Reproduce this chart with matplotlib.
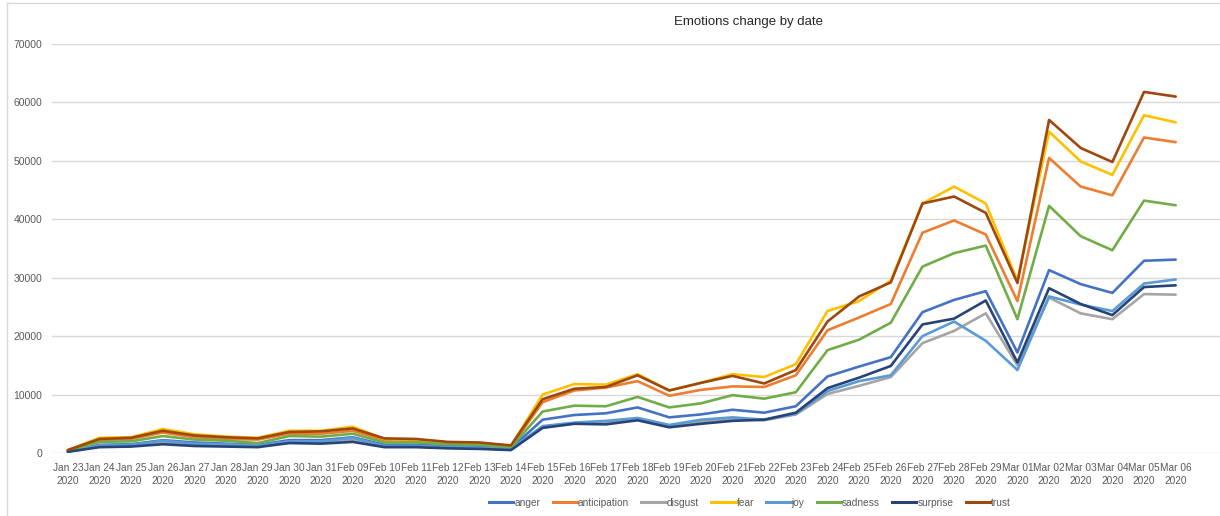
import matplotlib
matplotlib.use("Agg")
import matplotlib.pyplot as plt
from matplotlib.lines import Line2D

plt.rcParams["font.family"] = ["Liberation Sans", "DejaVu Sans"]

dates = ["Jan 23", "Jan 24", "Jan 25", "Jan 26", "Jan 27", "Jan 28", "Jan 29",
         "Jan 30", "Jan 31", "Feb 09", "Feb 10", "Feb 11", "Feb 12", "Feb 13",
         "Feb 14", "Feb 15", "Feb 16", "Feb 17", "Feb 18", "Feb 19", "Feb 20",
         "Feb 21", "Feb 22", "Feb 23", "Feb 24", "Feb 25", "Feb 26", "Feb 27",
         "Feb 28", "Feb 29", "Mar 01", "Mar 02", "Mar 03", "Mar 04", "Mar 05",
         "Mar 06"]
labels = [d + "\n2020" for d in dates]

anger = [300, 1400, 1500, 2200, 1800, 1600, 1400, 2200, 2200, 2700, 1400, 1400,
         1200, 1100, 800, 5700, 6500, 6800, 7800, 6100, 6600, 7400, 6900, 8000,
         13100, 14800, 16400, 24100, 26200, 27700, 17200, 31300, 28900, 27400,
         32900, 33100]
anticipation = [450, 2200, 2400, 3500, 2700, 2400, 2300, 3300, 3300, 3800, 2200,
                2100, 1700, 1600, 1100, 8700, 10700, 11200, 12300, 9800, 10800,
                11400, 11300, 13300, 21000, 23200, 25500, 37700, 39800, 37400,
                26000, 50500, 45600, 44100, 54000, 53200]
disgust = [250, 1200, 1300, 1800, 1400, 1300, 1200, 1900, 1800, 2300, 1100, 1100,
           900, 800, 600, 4500, 5100, 5200, 5800, 4600, 5400, 5800, 5600, 6600,
           10100, 11500, 13000, 18800, 20900, 23900, 15000, 26600, 23900, 22900,
           27200, 27100]
fear = [500, 2600, 2700, 4100, 3200, 2800, 2600, 3800, 3800, 4500, 2400, 2300,
        1800, 1700, 1200, 10000, 11800, 11700, 13500, 10700, 12000, 13500, 13000,
        15200, 24300, 26000, 29500, 42700, 45600, 42700, 29500, 55000, 49900,
        47600, 57800, 56600]
joy = [250, 1300, 1400, 2100, 1600, 1500, 1300, 2000, 2000, 2600, 1200, 1200,
       1000, 900, 700, 4600, 5200, 5500, 6000, 4800, 5700, 6100, 5700, 6700,
       10600, 12300, 13300, 20000, 22500, 19200, 14200, 26800, 25400, 24300,
       29000, 29700]
sadness = [400, 1900, 2000, 2900, 2300, 2100, 1700, 2900, 2800, 3300, 1800, 1800,
           1500, 1400, 1000, 7100, 8100, 8000, 9600, 7800, 8500, 9900, 9300, 10400,
           17600, 19400, 22300, 31900, 34200, 35500, 22900, 42300, 37100, 34700,
           43200, 42400]
surprise = [200, 1000, 1100, 1500, 1200, 1100, 1000, 1700, 1600, 1900, 1000, 1000,
            800, 700, 500, 4300, 5000, 4900, 5600, 4400, 5000, 5500, 5700, 6900,
            11100, 12900, 14900, 22000, 23000, 26100, 15500, 28200, 25500, 23600,
            28400, 28700]
trust = [500, 2400, 2600, 3800, 3000, 2700, 2500, 3600, 3700, 4200, 2500, 2400,
         1900, 1800, 1300, 9200, 11000, 11300, 13300, 10700, 12000, 13200, 11900,
         14200, 22500, 26800, 29200, 42700, 43900, 41100, 29100, 57000, 52200,
         49800, 61800, 61000]

series = [
    ("anger", anger, "#4472C4"),
    ("anticipation", anticipation, "#ED7D31"),
    ("disgust", disgust, "#A5A5A5"),
    ("fear", fear, "#FFC000"),
    ("joy", joy, "#5B9BD5"),
    ("sadness", sadness, "#70AD47"),
    ("surprise", surprise, "#264478"),
    ("trust", trust, "#9E480E"),
]

fig = plt.figure(figsize=(12.2, 5.16), dpi=100)
ax = fig.add_axes([52 / 1220, 1 - 453 / 516, 1 - 52 / 1220, (453 - 44) / 516])

x = list(range(len(dates)))
for name, vals, col in series:
    ax.plot(x, vals, color=col, lw=1.9, label=name, solid_capstyle="round")

ax.set_ylim(0, 70000)
ax.set_xlim(-0.5, 36.4)
ax.set_yticks(range(0, 70001, 10000))
ax.set_xticks(x)
ax.set_xticklabels(labels, fontsize=7.3, color="#595959", linespacing=1.45)
ax.tick_params(axis="y", labelsize=7.5, labelcolor="#595959", length=0, pad=7)
ax.tick_params(axis="x", length=0, pad=7)
ax.grid(axis="y", color="#D9D9D9", lw=1)
ax.set_axisbelow(True)
for s in ax.spines.values():
    s.set_visible(False)

fig.text(748 / 1220, 1 - 22 / 516, "Emotions change by date", ha="center",
         va="center", fontsize=9.5, color="#262626")

handles = [Line2D([], [], color=c, lw=2.2) for _, _, c in series]
fig.legend(handles, [n for n, _, _ in series], loc="center",
           bbox_to_anchor=(750 / 1220, 1 - 503 / 516), ncol=8, frameon=False,
           fontsize=7.3, handlelength=2.4, handletextpad=0.1, columnspacing=1.2,
           labelcolor="#595959")

# light frame around the chart area
fig.add_artist(Line2D([7 / 1220, 7 / 1220], [0, 1 - 3 / 516], color="#D9D9D9",
                      lw=1, transform=fig.transFigure))
fig.add_artist(Line2D([7 / 1220, 1], [1 - 3 / 516, 1 - 3 / 516], color="#D9D9D9",
                      lw=1, transform=fig.transFigure))

fig.savefig("out.png", dpi=100)
